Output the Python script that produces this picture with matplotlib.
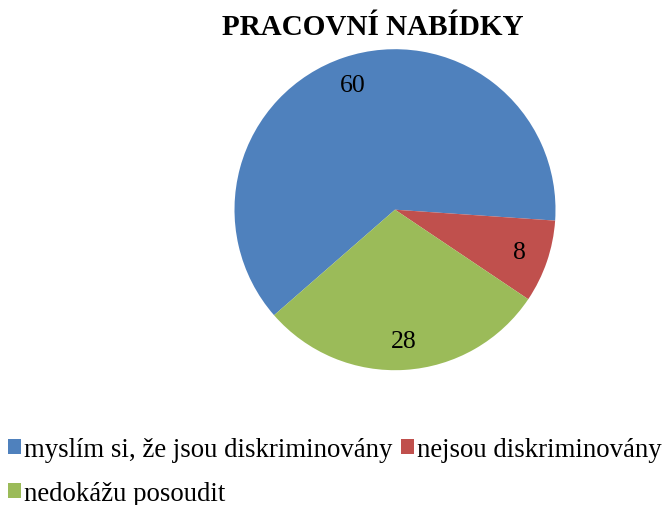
import matplotlib
matplotlib.use("Agg")
import matplotlib.pyplot as plt
from matplotlib.patches import Patch

title = "PRACOVNÍ NABÍDKY"
categories = ["myslím si, že jsou diskriminovány", "nejsou diskriminovány", "nedokážu posoudit"]
values = [60, 8, 28]
colors = ["#4F81BD", "#C0504D", "#9BBB59"]

plt.rcParams['font.family'] = ['Liberation Serif', 'DejaVu Serif']

W, H = 671, 506
fig = plt.figure(figsize=(W / 100, H / 100), dpi=100)

cx, cy, r = 395, 210.7, 160.5
ax = fig.add_axes([(cx - r) / W, (H - cy - r) / H, 2 * r / W, 2 * r / H])
wedges, texts = ax.pie(values, colors=colors, startangle=221.1, counterclock=False,
                       labels=[str(v) for v in values], labeldistance=0.82,
                       wedgeprops=dict(linewidth=0),
                       textprops=dict(fontsize=18.5, ha='center', va='center'))
for t in texts:
    t.set_horizontalalignment('center')
ax.set_xlim(-1, 1)
ax.set_ylim(-1, 1)
ax.set_aspect('equal')
ax.axis('off')

fig.text(373 / W, 1 - 35 / H, title, ha='center', va='baseline', fontsize=21, fontweight='bold')

order = [0, 2, 1]
handles = [Patch(facecolor=colors[i], edgecolor='none') for i in order]
labels = [categories[i] for i in order]
fig.legend(handles, labels, ncol=2, loc='upper left', bbox_to_anchor=(8 / W, 1 - 438 / H),
           frameon=False, fontsize=19.3, handlelength=0.5, handleheight=0.5,
           handletextpad=0.1, columnspacing=0.3, labelspacing=0.72, borderpad=0.0,
           borderaxespad=0.0)

fig.savefig("out.png", dpi=100)
